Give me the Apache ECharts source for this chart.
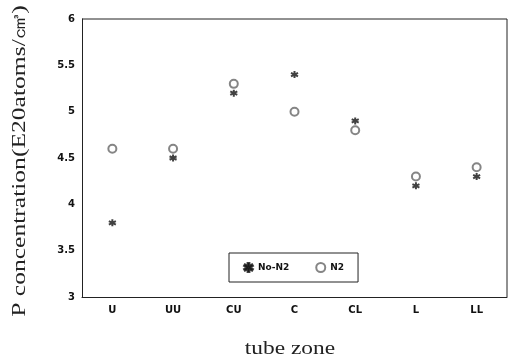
<!DOCTYPE html>
<html>
<head>
<meta charset="utf-8">
<script src="https://cdn.jsdelivr.net/npm/echarts@6/dist/echarts.min.js"></script>
<style>
  html, body { margin: 0; padding: 0; background: #fff; }
  #chart { width: 511px; height: 359px; }
</style>
</head>
<body>
<div id="chart"></div>
<script>
// data
const zones = ['U', 'UU', 'CU', 'C', 'CL', 'L', 'LL'];
const noN2 = [3.8, 4.5, 5.2, 5.4, 4.9, 4.2, 4.3];
const withN2 = [4.6, 4.6, 5.3, 5.0, 4.8, 4.3, 4.4];
const yTicks = [3, 3.5, 4, 4.5, 5, 5.5, 6];
const yTitle = 'P concentration(E20atoms/㎤)';
const xTitle = 'tube zone';

const starPath = 'path://M5,0 L5,10 M0,2.5 L10,7.5 M0,7.5 L10,2.5';

const chart = echarts.init(document.getElementById('chart'));
const option = {
  backgroundColor: '#fff',
  animation: false,
  grid: { left: 82, right: 4, top: 19, bottom: 62 },
  legend: {
    left: 229,
    top: 253,
    padding: [9, 14, 9, 14],
    itemGap: 26,
    itemWidth: 9,
    itemHeight: 9,
    borderColor: '#222',
    borderWidth: 1,
    textStyle: { fontFamily: 'DejaVu Sans', fontWeight: 'bold', fontSize: 9, color: '#111' },
    data: [
      { name: 'No-N2', icon: 'path://M4,0 L6,0 L6,3 L9,1.5 L10,3.2 L7,5 L10,6.8 L9,8.5 L6,7 L6,10 L4,10 L4,7 L1,8.5 L0,6.8 L3,5 L0,3.2 L1,1.5 L4,3 Z' },
      { name: 'N2', icon: 'emptyCircle' }
    ]
  },
  xAxis: {
    type: 'category',
    data: zones,
    boundaryGap: true,
    axisLine: { lineStyle: { color: '#222', width: 1 } },
    axisTick: { inside: true, alignWithLabel: true, length: 3, lineStyle: { color: '#222' } },
    axisLabel: { fontFamily: 'DejaVu Sans', fontWeight: 'bold', fontSize: 10, color: '#111', margin: 8 },
    splitLine: { show: false }
  },
  yAxis: {
    type: 'value',
    min: 3,
    max: 6,
    interval: 0.5,
    axisLine: { show: true, lineStyle: { color: '#222', width: 1 } },
    axisTick: { inside: true, length: 3, lineStyle: { color: '#222' } },
    axisLabel: {
      fontFamily: 'DejaVu Sans', fontWeight: 'bold', fontSize: 10, color: '#111', margin: 7,
      formatter: function (v) { return yTicks.indexOf(v) >= 0 ? String(v) : ''; }
    },
    splitLine: { show: false }
  },
  series: [
    {
      name: 'No-N2',
      type: 'scatter',
      data: noN2,
      symbol: starPath,
      symbolSize: 7,
      itemStyle: { color: '#111', borderColor: '#111', borderWidth: 2 }
    },
    {
      name: 'N2',
      type: 'scatter',
      data: withN2,
      symbol: 'emptyCircle',
      symbolSize: 8,
      itemStyle: { color: '#666', borderColor: '#666', borderWidth: 1 }
    }
  ],
  graphic: [
    // frame top and right edges of the plot box
    { type: 'polyline', shape: { points: [[82, 19], [507, 19], [507, 297]] }, style: { stroke: '#222', lineWidth: 1, fill: null } },
    // axis titles, stretched like the scanned original
    {
      type: 'text', x: 20, y: 161, rotation: Math.PI / 2, scaleX: 1.42, scaleY: 1,
      style: { text: yTitle, font: '18px "Liberation Serif"', fill: '#222', align: 'center', verticalAlign: 'middle' }
    },
    {
      type: 'text', x: 290, y: 349, scaleX: 1.3, scaleY: 1,
      style: { text: xTitle, font: '18px "Liberation Serif"', fill: '#222', align: 'center', verticalAlign: 'middle' }
    }
  ]
};
chart.setOption(option);
</script>
</body>
</html>
